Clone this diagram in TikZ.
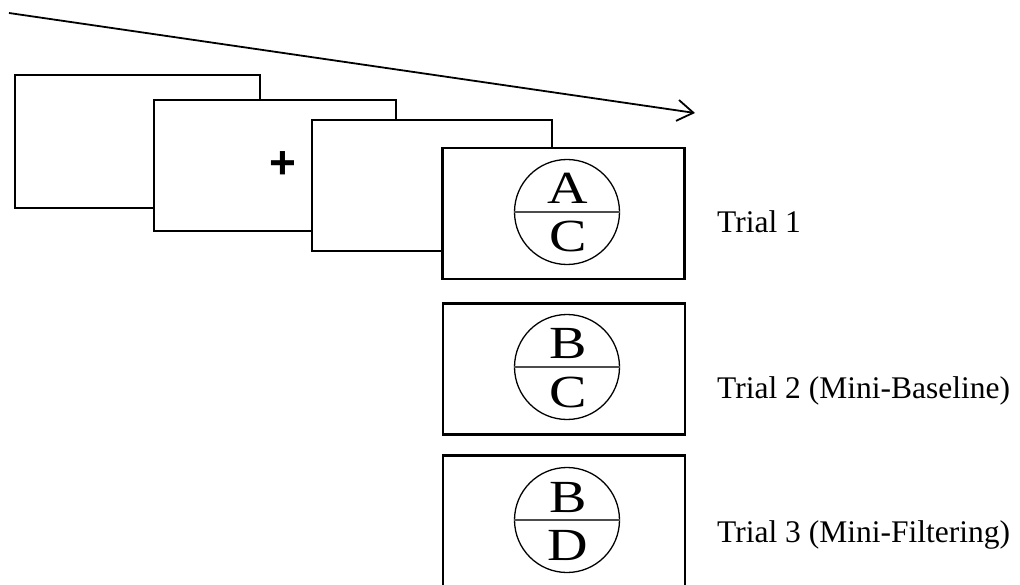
\documentclass[tikz,border=0pt]{standalone}
\usepackage{graphicx}
\usepackage{fontspec}
\setmainfont{Liberation Serif}
\newfontfamily\plusfont{Liberation Sans}
\usetikzlibrary{arrows.meta}

\begin{document}
\begin{tikzpicture}[
    x=1pt, y=-1pt,
    screen/.style={draw, line width=1.6pt, fill=white, inner sep=0pt},
    trialbox/.style={screen, line width=2.2pt, minimum width=242pt, minimum height=131pt},
    disc/.style={circle, draw, line width=1.3pt, minimum size=105pt, inner sep=0pt},
    letter/.style={anchor=base, inner sep=0pt, font=\fontsize{46}{50}\selectfont},
    triallabel/.style={anchor=base west, inner sep=0pt, font=\fontsize{31.5}{36}\selectfont},
    arr/.style={-{Straight Barb[length=16pt, width=21pt, line width=1.8pt]}, line width=1.8pt}
]
\useasboundingbox (0,0) rectangle (1020,585);
\clip (0,0) rectangle (1020,585);

% time arrow
\coordinate (tstart) at (9,13);
\coordinate (tend) at (695,113);
\draw[arr] (tstart) -- (tend);

% blank, fixation and blank screens
\node[screen, minimum width=245pt, minimum height=133pt] (blank1) at (137.5,141.5) {};
\node[screen, minimum width=242pt, minimum height=131pt] (fix) at (275,165.5) {};
\node[inner sep=0pt, font=\plusfont\bfseries\fontsize{46}{50}\selectfont] (plus) at (283,165) {+};
\node[screen, minimum width=240pt, minimum height=131pt] (blank2) at (432,185.5) {};

% trial screens
\node[trialbox] (t1) at (563.5,213.5) {};
\node[trialbox] (t2) at (564,369) {};
\node[trialbox] (t3) at (564,521) {};

\node[disc] (c1) at (567,212) {};
\node[disc] (c2) at (567,367) {};
\node[disc] (c3) at (567,520) {};
\draw[line width=1.2pt, black!70] (c1.west) -- (c1.east);
\draw[line width=1.2pt, black!70] (c2.west) -- (c2.east);
\draw[line width=1.2pt, black!70] (c3.west) -- (c3.east);

\node[letter] (a1) at (568,204) {\scalebox{1.22}[1]{A}};
\node[letter] (b1) at (568,252) {\scalebox{1.22}[1]{C}};
\node[letter] (a2) at (568,359) {\scalebox{1.22}[1]{B}};
\node[letter] (b2) at (568,407) {\scalebox{1.22}[1]{C}};
\node[letter] (a3) at (568,512) {\scalebox{1.22}[1]{B}};
\node[letter] (b3) at (568,560) {\scalebox{1.22}[1]{D}};

% labels
\node[triallabel] (l1) at (717,233) {Trial 1};
\node[triallabel] (l2) at (717,398) {Trial 2 (Mini-Baseline)};
\node[triallabel] (l3) at (717,542) {Trial 3 (Mini-Filtering)};
\end{tikzpicture}
\end{document}
